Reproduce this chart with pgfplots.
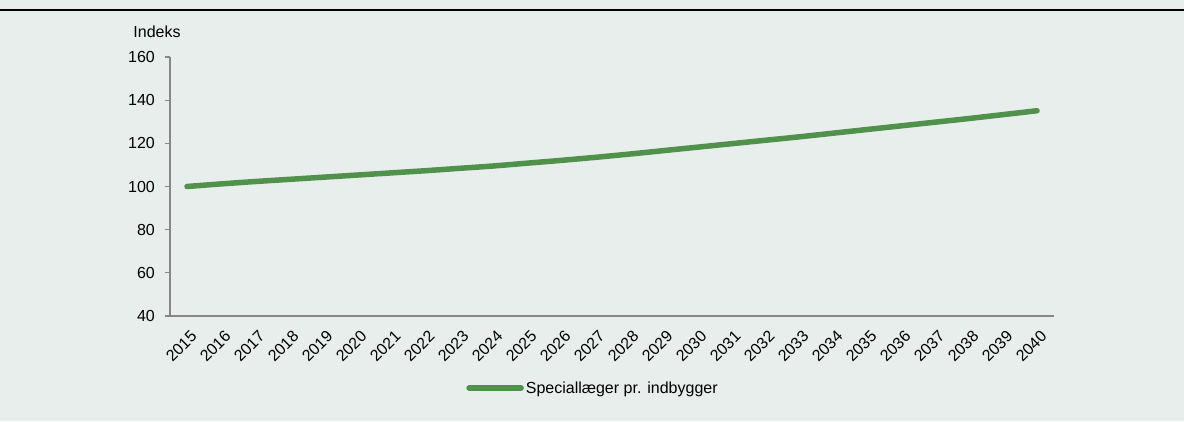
\documentclass[border=0pt]{standalone}
\usepackage{fontspec}
\setmainfont{Liberation Sans}
\usepackage{pgfplots}
\pgfplotsset{compat=1.18}
\definecolor{bg}{RGB}{232,238,236}
\definecolor{axgray}{RGB}{135,135,135}
\definecolor{lgreen}{RGB}{80,145,76}
\begin{document}
\begin{tikzpicture}[x=1bp,y=1bp]
\fill[bg] (0,0) rectangle (1184,421);
\useasboundingbox (0,0) rectangle (1184,421);
\draw[black, line width=2.2bp] (0,411) -- (1184,411);
\node[font=\fontsize{16bp}{19bp}\selectfont] at (157,389) {Indeks};
\begin{axis}[
  at={(170bp,105bp)}, anchor=south west,
  scale only axis, width=884bp, height=259bp,
  xmin=-0.5, xmax=25.5, ymin=40, ymax=160,
  axis lines*=left,
  axis line style={axgray, line width=1.5bp},
  every tick/.style={axgray, line width=1.2bp},
  tick align=outside, major tick length=5bp,
  xtick={0,...,25},
  xticklabels={2015,2016,2017,2018,2019,2020,2021,2022,2023,2024,2025,2026,2027,2028,2029,2030,2031,2032,2033,2034,2035,2036,2037,2038,2039,2040},
  x tick style={draw=none},
  extra x ticks={-0.5,0.5,...,25.5},
  extra x tick labels={},
  extra x tick style={x tick style={axgray, line width=1.2bp}},
  ytick={40,60,...,160},
  tick label style={font=\fontsize{16bp}{19bp}\selectfont},
  /pgf/number format/assume math mode=true,
  xticklabel style={rotate=45, anchor=north east, inner sep=1bp, xshift=-3bp, yshift=-7bp},
  yticklabel style={inner sep=1bp, xshift=-9bp},
  legend style={draw=none, fill=none, at={(0.335,-0.278)}, anchor=west,
    font=\fontsize{16bp}{19bp}\selectfont, inner sep=0pt},
  legend image code/.code={\draw[line width=5.5bp, line cap=round] (0bp,0bp) -- (52bp,0bp);},
  legend cell align=left,
]
\addplot[lgreen, line width=5.5bp, line cap=round, smooth] coordinates {
(0,100) (1,101.2) (2,102.3) (3,103.3) (4,104.3) (5,105.3) (6,106.3) (7,107.3)
(8,108.4) (9,109.5) (10,110.8) (11,112.1) (12,113.5) (13,115.0) (14,116.6)
(15,118.2) (16,119.8) (17,121.4) (18,123.0) (19,124.7) (20,126.4) (21,128.1)
(22,129.8) (23,131.5) (24,133.3) (25,135.1)
};
\addlegendentry{Speciallæger pr. indbygger}
\end{axis}
\end{tikzpicture}
\end{document}
